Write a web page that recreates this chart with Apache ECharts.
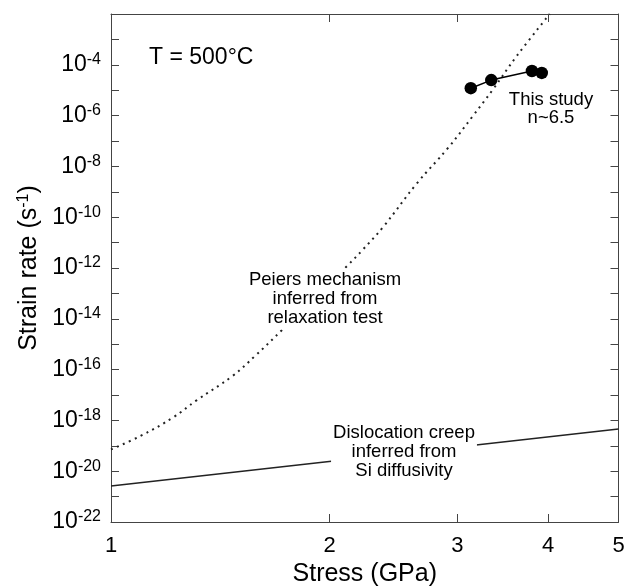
<!DOCTYPE html>
<html>
<head>
<meta charset="utf-8">
<script src="https://cdn.jsdelivr.net/npm/echarts@6/dist/echarts.min.js"></script>
<style>
html,body{margin:0;padding:0;background:#fff;}
#chart{width:629px;height:586px;}
</style>
</head>
<body>
<div id="chart"></div>
<script>
// ---- data (stress in GPa, strain rate in s^-1) ----
const xTicks = [1, 2, 3, 4, 5];
const yLabelExps = [-22, -20, -18, -16, -14, -12, -10, -8, -6, -4];
const yMinRate = 1e-22;
const yMaxRate = 1e-2;

const peierlsStress = [1.00, 1.10, 1.22, 1.31, 1.47, 1.58, 1.72, 2.12, 2.22, 2.37, 2.64, 2.91, 3.15, 3.36, 3.62, 4.02];
const peierlsRate   = [7.2e-20, 2.5e-19, 1.35e-18, 6.0e-18, 5.6e-17, 3.5e-16, 3.6e-15, 1.3e-12, 5.1e-12, 4.1e-11, 2.2e-9, 5.2e-8, 9.6e-7, 1.1e-5, 2.2e-4, 1.0e-2];

const dislocStress = [1, 5];
const dislocRate   = [2.6e-21, 4.6e-19];

const studyStress = [3.13, 3.34, 3.80, 3.92];
const studyRate   = [1.2e-5, 2.5e-5, 5.7e-5, 4.8e-5];
const studyLineCount = 3;

// The log scale cannot handle values as small as 1e-22 directly, so the
// axis works in units of yMinRate (1e-22 s^-1); labels convert back.
const UNIT = yMinRate;
const UNIT_EXP = Math.round(Math.log10(UNIT));
const toAxis = (r) => r / UNIT;

const FONT = '"Liberation Sans", Arial, Helvetica, sans-serif';
const AX = '#444';

const zip = (a, b) => a.map((v, i) => [v, toAxis(b[i])]);

const chart = echarts.init(document.getElementById('chart'), null, {renderer: 'canvas'});

const yLabelFormatter = function (v) {
  const e = Math.round(Math.log10(v)) + UNIT_EXP;
  if (yLabelExps.indexOf(e) < 0) return '';
  return '{b|10}{s|' + e + '}';
};

const yBase = {
  type: 'log', logBase: 10, min: toAxis(yMinRate), max: toAxis(yMaxRate), interval: 1,
  axisLine: {show: true, lineStyle: {color: AX, width: 1}},
  axisTick: {show: true, inside: true, length: 8, lineStyle: {color: AX}},
  splitLine: {show: false}
};
const xBase = {
  type: 'log', logBase: 10, min: xTicks[0], max: xTicks[xTicks.length - 1],
  axisLine: {show: true, lineStyle: {color: AX, width: 1}},
  axisTick: {show: true, inside: true, length: 8, lineStyle: {color: AX}, customValues: xTicks},
  splitLine: {show: false}
};

const option = {
  backgroundColor: '#fff',
  animation: false,
  textStyle: {fontFamily: FONT, color: '#000'},
  grid: {left: 111, right: 10.5, top: 14, bottom: 64, outerBoundsMode: 'none', containLabel: false},
  xAxis: [
    Object.assign({}, xBase, {
      position: 'bottom',
      axisLabel: {show: true, customValues: xTicks, fontSize: 22, color: '#000', fontFamily: FONT, margin: 13},
      name: 'Stress (GPa)', nameLocation: 'middle', nameGap: 40,
      nameTextStyle: {fontSize: 25, color: '#000', fontFamily: FONT}
    }),
    Object.assign({}, xBase, {position: 'top', axisLabel: {show: false}})
  ],
  yAxis: [
    Object.assign({}, yBase, {
      position: 'left',
      axisLabel: {
        show: true, margin: 10, formatter: yLabelFormatter,
        rich: {
          b: {fontSize: 23, fontFamily: FONT, color: '#000'},
          s: {fontSize: 16, fontFamily: FONT, color: '#000', verticalAlign: 'top', padding: [0, 0, 10, 0]}
        }
      },
      name: '{n|Strain rate (s}{s|-1}{n|)}', nameLocation: 'middle', nameGap: 66,
      nameTextStyle: {
        rich: {
          n: {fontSize: 25, fontFamily: FONT, color: '#000'},
          s: {fontSize: 16, fontFamily: FONT, color: '#000', verticalAlign: 'top', padding: [0, 0, 10, 0]}
        }
      }
    }),
    Object.assign({}, yBase, {position: 'right', axisLabel: {show: false}})
  ],
  series: [
    {
      type: 'line', name: 'Peierls', data: zip(peierlsStress, peierlsRate),
      showSymbol: false, smooth: 0.4, clip: true,
      lineStyle: {color: '#222', width: 2, type: [2, 4.5], cap: 'butt'}
    },
    {
      type: 'line', name: 'Dislocation', data: zip(dislocStress, dislocRate),
      showSymbol: false, lineStyle: {color: '#222', width: 1.5}
    },
    {
      type: 'line', name: 'StudyLine', data: zip(studyStress, studyRate).slice(0, studyLineCount),
      showSymbol: false, lineStyle: {color: '#000', width: 1.5}
    },
    {
      type: 'scatter', name: 'Study', data: zip(studyStress, studyRate),
      symbol: 'circle', symbolSize: 12.5, itemStyle: {color: '#000', opacity: 1}, z: 5
    }
  ],
  graphic: [
    {type: 'text', z: 100, left: 149, top: 46,
     style: {text: 'T = 500°C', font: '23px ' + FONT, fill: '#000'}},
    {type: 'text', z: 100, x: 325, y: 299,
     style: {text: 'Peiers mechanism\ninferred from\nrelaxation test', font: '18.5px ' + FONT, lineHeight: 19,
             fill: '#000', align: 'center', verticalAlign: 'middle', backgroundColor: '#fff', padding: [2, 2]}},
    {type: 'text', z: 100, x: 404, y: 452,
     style: {text: 'Dislocation creep\ninferred from\nSi diffusivity', font: '18.5px ' + FONT, lineHeight: 19,
             fill: '#000', align: 'center', verticalAlign: 'middle', backgroundColor: '#fff', padding: [2, 2]}},
    {type: 'text', z: 100, x: 551, y: 109,
     style: {text: 'This study\nn~6.5', font: '18.5px ' + FONT, lineHeight: 18.5,
             fill: '#000', align: 'center', verticalAlign: 'middle'}}
  ]
};
chart.setOption(option);
</script>
</body>
</html>
